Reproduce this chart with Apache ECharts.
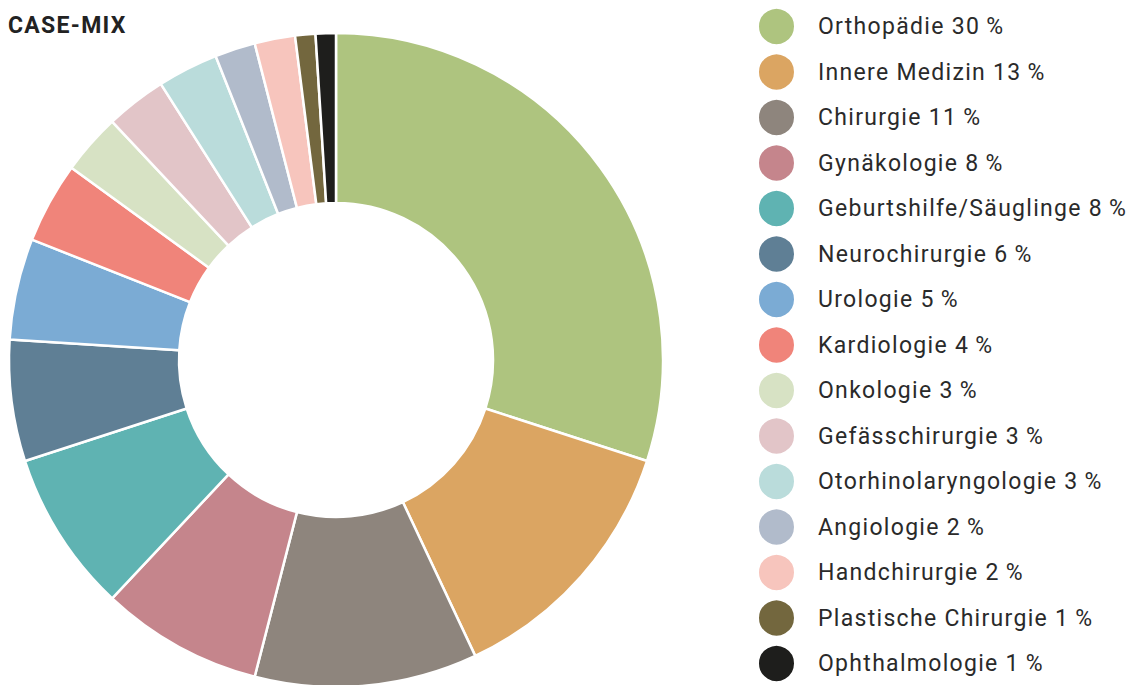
<!DOCTYPE html>
<html><head><meta charset="utf-8">
<script src="https://cdn.jsdelivr.net/npm/echarts@6/dist/echarts.min.js"></script>
<style>html,body{margin:0;padding:0;background:#fff}#c{width:1139px;height:685px}#c svg text{letter-spacing:1.3px}</style>
</head><body><div id="c"></div>
<script>
const categories = ["Orthopädie","Innere Medizin","Chirurgie","Gynäkologie","Geburtshilfe/Säuglinge","Neurochirurgie","Urologie","Kardiologie","Onkologie","Gefässchirurgie","Otorhinolaryngologie","Angiologie","Handchirurgie","Plastische Chirurgie","Ophthalmologie"];
const values = [30,13,11,8,8,6,5,4,3,3,3,2,2,1,1];
const colors = ["#AEC47F","#DBA562","#8E857D","#C5858C","#5FB3B2","#5F7F95","#7BABD4","#F0847A","#D7E2C4","#E2C5C8","#BADCDB","#B1BBCB","#F7C5BD","#73673E","#1E1E1C"];
const valueOf = {};
categories.forEach((c,i)=>valueOf[c]=values[i]);
const chart = echarts.init(document.getElementById('c'), null, {renderer:'svg'});
chart.setOption({
  animation:false,
  color: colors,
  title:{text:"CASE-MIX",left:8,top:14,padding:0,textStyle:{fontFamily:"Roboto",fontWeight:"bold",fontSize:23,color:"#222"}},
  legend:{
    orient:"vertical",left:757,top:7,padding:0,height:685,icon:"circle",itemWidth:37,itemHeight:37,itemGap:6.5,
    textStyle:{fontFamily:"Roboto",fontSize:23,lineHeight:28,color:"#2a2a2a",padding:[0,0,0,18]},
    formatter:n=>n+" "+valueOf[n]+"\u2009%"
  },
  series:[{
    type:"pie",center:[336,360],radius:[157,327],startAngle:90,clockwise:true,
    label:{show:false},labelLine:{show:false},
    itemStyle:{borderColor:"#fff",borderWidth:2.5},
    emphasis:{disabled:true},
    data:categories.map((c,i)=>({name:c,value:values[i]}))
  }]
});
</script></body></html>
